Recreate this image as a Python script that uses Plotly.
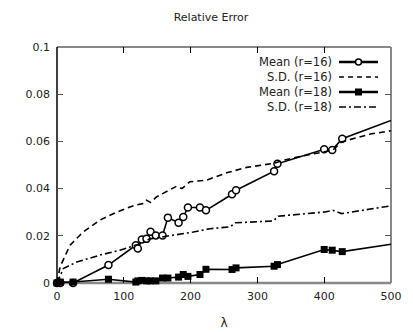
import plotly.graph_objects as go

# shared x positions of the mean series
lam = [0, 5, 24, 77, 118, 121, 127, 134, 140, 148, 158, 166, 182, 189, 196,
       214, 223, 262, 268, 325, 330, 400, 412, 427, 500]
mean_r16 = [0, 0, 0, 0.0076, 0.0160, 0.0146, 0.0184, 0.0187, 0.0217, 0.0201,
            0.0201, 0.0277, 0.0255, 0.0280, 0.0320, 0.0320, 0.0308, 0.0376,
            0.0393, 0.0474, 0.0505, 0.0567, 0.0564, 0.0611, 0.0689]
mean_r18 = [0, 0.0004, 0.0004, 0.0016, 0.0004, 0.0009, 0.0011, 0.0009, 0.0009,
            0.0009, 0.0021, 0.0021, 0.0025, 0.0036, 0.0028, 0.0036, 0.0058,
            0.0057, 0.0064, 0.0071, 0.0078, 0.0142, 0.0139, 0.0133, 0.0164]

sd16_x = [0, 4.5, 19.5, 39, 64, 89, 117, 129, 134, 140, 149, 167, 179, 187,
          199, 224, 254, 284, 324, 339, 369, 413, 426, 469, 500]
sd_r16 = [0, 0.0068, 0.0160, 0.0216, 0.0266, 0.0300, 0.0330, 0.0337, 0.0351,
          0.0341, 0.0365, 0.0393, 0.0410, 0.0400, 0.0429, 0.0436, 0.0467,
          0.0490, 0.0507, 0.0520, 0.0539, 0.0563, 0.0598, 0.0631, 0.0645]

sd18_x = [0, 9.5, 29.5, 64, 94, 122, 139, 159, 169, 204, 229, 259, 267, 324,
          331, 369, 401, 413, 426, 500]
sd_r18 = [0, 0.0061, 0.0089, 0.0118, 0.0139, 0.0164, 0.0187, 0.0195, 0.0202,
          0.0216, 0.0230, 0.0238, 0.0255, 0.0263, 0.0283, 0.0294, 0.0301,
          0.0308, 0.0294, 0.0327]

x_ticks = [0, 100, 200, 300, 400, 500]
y_ticks = [0, 0.02, 0.04, 0.06, 0.08, 0.1]
y_tick_text = ["0", "0.02", "0.04", "0.06", "0.08", "0.1"]
legend_labels = ["Mean (r=16)", "S.D. (r=16)", "Mean (r=18)", "S.D. (r=18)"]

FONT = "DejaVu Sans"
DASH = "6px,4px"
DASHDOT = "7px,3px,2px,3px"
fig = go.Figure()

# marker sizes: last point lies on the frame edge, no visible marker there
sizes = [7] * (len(lam) - 1) + [0]

# drawing order as in the original: Mean16, SD16, Mean18, SD18
fig.add_trace(go.Scatter(x=lam, y=mean_r16, mode="lines+markers", cliponaxis=False,
                         line=dict(color="black", width=1.6),
                         marker=dict(symbol="circle", size=sizes, color="white",
                                     opacity=1, line=dict(color="black", width=1.5)),
                         showlegend=False))
fig.add_trace(go.Scatter(x=sd16_x, y=sd_r16, mode="lines",
                         line=dict(color="black", width=1.6, dash=DASH),
                         showlegend=False))
fig.add_trace(go.Scatter(x=lam, y=mean_r18, mode="lines+markers", cliponaxis=False,
                         line=dict(color="black", width=1.6),
                         marker=dict(symbol="square", size=sizes, color="black",
                                     opacity=1, line=dict(width=0)),
                         showlegend=False))
fig.add_trace(go.Scatter(x=sd18_x, y=sd_r18, mode="lines",
                         line=dict(color="black", width=1.6, dash=DASHDOT),
                         showlegend=False))

# the page body adds an 8px offset; compensate so the screenshot matches
OFF = 8
W, H = 413, 332
L, R, T, B = 57 - OFF, 22 + OFF, 47 - OFF, 49 + OFF
pw, ph = W - L - R, H - T - B

def px2paper_x(px):
    return (px - OFF - L) / pw

def px2paper_y(py):
    return 1 - (py - OFF - T) / ph

shapes = []
annotations = []
rows = [62, 77, 92, 107]
styles = ["solid", "5px,4px", "solid", DASHDOT]
for i, (lab, st) in enumerate(zip(legend_labels, styles)):
    yy = px2paper_y(rows[i])
    annotations.append(dict(x=px2paper_x(334), y=yy, xref="paper", yref="paper",
                            text=lab, showarrow=False, xanchor="right",
                            yanchor="middle",
                            font=dict(family=FONT, size=11.5, color="#222")))
    shapes.append(dict(type="line", xref="paper", yref="paper",
                       x0=px2paper_x(339), x1=px2paper_x(378), y0=yy, y1=yy,
                       line=dict(color="black", width=1.6 if i % 2 else 2.5, dash=st)))
    if i == 0:
        shapes.append(dict(type="circle", xref="paper", yref="paper",
                           x0=px2paper_x(355.5), x1=px2paper_x(361.5),
                           y0=px2paper_y(rows[i] + 3), y1=px2paper_y(rows[i] - 3),
                           fillcolor="white", line=dict(color="black", width=1.5)))
    if i == 2:
        shapes.append(dict(type="rect", xref="paper", yref="paper",
                           x0=px2paper_x(355), x1=px2paper_x(362),
                           y0=px2paper_y(rows[i] + 3.5), y1=px2paper_y(rows[i] - 3.5),
                           fillcolor="black", line=dict(color="black", width=0)))

# frame: gray top/right/bottom, black left
shapes.append(dict(type="line", xref="paper", yref="paper", x0=0, x1=1, y0=1, y1=1,
                   layer="below", line=dict(color="#888", width=2)))
shapes.append(dict(type="line", xref="paper", yref="paper", x0=1, x1=1, y0=0, y1=1,
                   layer="below", line=dict(color="#888", width=2)))
shapes.append(dict(type="line", xref="paper", yref="paper", x0=0, x1=1, y0=0, y1=0,
                   layer="below", line=dict(color="#888", width=2.5)))
shapes.append(dict(type="line", xref="paper", yref="paper", x0=0, x1=0, y0=0, y1=1,
                   layer="below", line=dict(color="black", width=1.5)))

fig.update_layout(
    width=W, height=H,
    margin=dict(l=L, r=R, t=T, b=B, autoexpand=False),
    paper_bgcolor="white", plot_bgcolor="white",
    title=dict(text="Relative Error", x=px2paper_x(211), xref="paper", xanchor="center",
               y=1 - (17 - OFF) / H, yanchor="middle",
               font=dict(family=FONT, size=11, color="#222")),
    font=dict(family=FONT, size=11, color="#222"),
    shapes=shapes, annotations=annotations,
    xaxis=dict(range=[0, 500], tickvals=x_ticks, ticks="inside", ticklen=6,
               tickcolor="black", mirror="allticks", showline=False, showgrid=False,
               zeroline=False, automargin=False, ticklabelstandoff=5,
               title=dict(text="λ", font=dict(family=FONT, size=12), standoff=16),
               tickfont=dict(family=FONT, size=11, color="#222")),
    yaxis=dict(range=[0, 0.1], tickvals=y_ticks, ticktext=y_tick_text, ticks="inside",
               ticklen=6, tickcolor="#555", mirror="allticks", showline=False,
               showgrid=False, zeroline=False, automargin=False, ticklabelstandoff=6,
               tickfont=dict(family=FONT, size=11, color="#222")),
)

fig.write_html("out.html")
